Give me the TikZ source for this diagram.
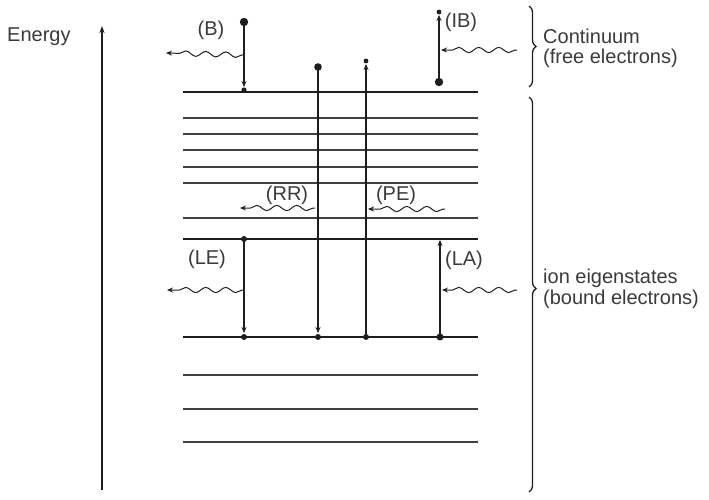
\documentclass[tikz,border=0pt]{standalone}
\usepackage{fontspec}
\setmainfont{Liberation Sans}
\usetikzlibrary{arrows.meta,decorations.pathmorphing,decorations.pathreplacing}
\definecolor{ink}{HTML}{1E1E1E}
\definecolor{txt}{HTML}{3A3A3A}
\begin{document}
\begin{tikzpicture}[x=1pt,y=-1pt,
  lbl/.style={text=txt, font=\fontsize{20}{22}\selectfont, inner sep=0pt},
  lvthick/.style={line width=2.4pt, draw=ink},
  lvthin/.style={line width=1.2pt, draw=ink!85},
  trans/.style={line width=2pt, draw=ink},
  transthin/.style={line width=1.1pt, draw=ink},
  tip/.style={-{Stealth[length=6pt,width=5pt]}},
  photon/.style={line width=1pt, draw=ink, -{Stealth[length=6pt,width=5pt]},
    decorate, decoration={snake, amplitude=2.6pt, segment length=20pt, pre length=2pt, post length=6pt}},
  bigdot/.style={fill=ink, draw=none},
  bracestyle/.style={line width=1.3pt, draw=ink, decorate, decoration={brace, amplitude=7pt}}
]
\useasboundingbox (0,0) rectangle (709,499);

% Energy axis
\coordinate (axB) at (102,490);
\coordinate (axT) at (102,26);
\draw[line width=1.2pt, ink, -{Stealth[length=7pt,width=5pt]}] (axB) -- (axT);
\node[lbl, anchor=base west] (energy) at (7,41) {Energy};

% levels
\foreach \y/\n in {92/c0,239/u,337/l}{
  \coordinate (\n W) at (183,\y); \coordinate (\n E) at (478,\y);
  \draw[lvthick] (\n W) -- (\n E);
}
\foreach \y/\n in {118/a1,134/a2,150/a3,167/a4,183/a5,218/a6,375/b1,409/b2,442/b3}{
  \coordinate (\n W) at (183,\y); \coordinate (\n E) at (478,\y);
  \draw[lvthin] (\n W) -- (\n E);
}

% (B) bremsstrahlung
\coordinate (Bt) at (244,22);
\coordinate (Bb) at (244,87);
\coordinate (Bl) at (244,90);
\coordinate (Bp) at (244,55);
\coordinate (Be) at (166,53);
\draw[trans, tip] (Bt) -- (Bb);
\fill[bigdot] (Bt) circle (4.2pt);
\fill[bigdot] (Bl) circle (2.6pt);
\draw[photon] (Bp) -- (Be);
\node[lbl] (labB) at (211,30) {(B)};

% (RR)
\coordinate (Rt) at (318,67);
\coordinate (Rb) at (318,333);
\coordinate (Rl) at (318,337);
\draw[transthin, tip] (Rt) -- (Rb);
\fill[bigdot] (Rt) circle (3.8pt);
\fill[bigdot] (Rl) circle (3pt);
\coordinate (Rp) at (315,208);
\coordinate (Re) at (240,208);
\draw[photon] (Rp) -- (Re);
\node[lbl] (labRR) at (287,195) {(RR)};

% (PE)
\coordinate (Pb) at (366,337);
\coordinate (Pt) at (366,64);
\coordinate (Pc) at (366,61);
\draw[trans, tip] (Pb) -- (Pt);
\fill[bigdot] (Pb) circle (3pt);
\fill[bigdot] (Pc) circle (2.4pt);
\coordinate (Pp) at (445,209);
\coordinate (Pe) at (368,209);
\draw[photon] (Pp) -- (Pe);
\node[lbl] (labPE) at (396,195) {(PE)};

% (IB)
\coordinate (Ib) at (439,82);
\coordinate (It) at (439,15);
\coordinate (Ic) at (439,12);
\draw[trans, tip] (Ib) -- (It);
\fill[bigdot] (Ib) circle (4.2pt);
\fill[bigdot] (Ic) circle (2.4pt);
\coordinate (Ip) at (517,50);
\coordinate (Ie) at (441,50);
\draw[photon] (Ip) -- (Ie);
\node[lbl] (labIB) at (461,22) {(IB)};

% (LE)
\coordinate (Lt) at (244,239);
\coordinate (Lb) at (244,333);
\coordinate (Ll) at (244,337);
\draw[trans, tip] (Lt) -- (Lb);
\fill[bigdot] (Lt) circle (3pt);
\fill[bigdot] (Ll) circle (3pt);
\coordinate (Lp) at (244,290);
\coordinate (Le) at (167,290);
\draw[photon] (Lp) -- (Le);
\node[lbl] (labLE) at (207,259) {(LE)};

% (LA)
\coordinate (Ab) at (440,337);
\coordinate (At) at (440,240);
\draw[trans, tip] (Ab) -- (At);
\fill[bigdot] (Ab) circle (3.5pt);
\coordinate (Ap) at (517,290);
\coordinate (Ae) at (442,290);
\draw[photon] (Ap) -- (Ae);
\node[lbl] (labLA) at (464,260) {(LA)};

% braces
\coordinate (b1t) at (529,6);
\coordinate (b1b) at (529,87);
\draw[bracestyle] (b1t) -- (b1b);
\node[lbl, anchor=base west] (cont1) at (543,43) {Continuum};
\node[lbl, anchor=base west] (cont2) at (543,63) {(free electrons)};

\coordinate (b2t) at (529,97);
\coordinate (b2b) at (529,492);
\draw[bracestyle, decoration={brace, amplitude=7pt, aspect=0.485}] (b2t) -- (b2b);
\node[lbl, anchor=base west] (ion1) at (543,283) {ion eigenstates};
\node[lbl, anchor=base west] (ion2) at (543,304) {(bound electrons)};
\end{tikzpicture}
\end{document}
